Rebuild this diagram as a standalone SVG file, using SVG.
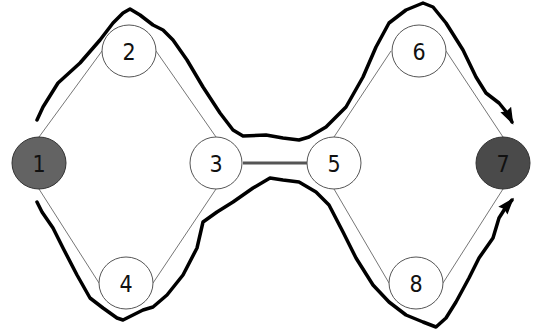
<svg xmlns="http://www.w3.org/2000/svg" width="536" height="335" viewBox="0 0 536 335">
<style>
.n{fill:#fff;stroke:#555;stroke-width:1}
.d{stroke:#333;stroke-width:1}
.t{font-family:"DejaVu Sans Condensed","Liberation Sans Narrow","DejaVu Sans",sans-serif;font-size:23px;text-anchor:middle;fill:#111}
.e{stroke:#666;stroke-width:0.9;fill:none}
.b{stroke:#555;stroke-width:3;fill:none}
.p{stroke:#000;stroke-width:3.5;fill:none;stroke-linejoin:round;stroke-linecap:round}
</style>
<defs>
<marker id="ah" markerUnits="userSpaceOnUse" markerWidth="20" markerHeight="16" viewBox="0 0 20 16" refX="14" refY="8" orient="auto">
<path d="M0,2 L17,8 L0,14 L2,8 Z" fill="#000"/>
</marker>
</defs>
<g id="connectors">
<line class="e" x1="39" y1="137" x2="102" y2="51"/>
<line class="e" x1="156" y1="51" x2="216" y2="137"/>
<line class="e" x1="39" y1="189" x2="99" y2="283"/>
<line class="e" x1="153" y1="283" x2="216" y2="189"/>
<line class="b" x1="243" y1="163" x2="307" y2="163"/>
<line class="e" x1="334" y1="137" x2="391" y2="51"/>
<line class="e" x1="446" y1="51" x2="503" y2="137"/>
<line class="e" x1="334" y1="189" x2="389" y2="283"/>
<line class="e" x1="443" y1="283" x2="503" y2="189"/>
<path id="upper" class="p" marker-end="url(#ah)" d="M37,120 L43,107 L58,83 L80,63 L100,40 L113,23 L123,13 L130,9 L140,15 L153,25 L163,30 L173,40 L187,60 L203,87 L220,113 L233,130 L243,136 L266,135 L283,138 L299,140 L309,137 L326,127 L346,107 L363,77 L376,47 L389,23 L406,10 L423,3 L433,7 L446,23 L463,50 L476,77 L486,93 L499,103 L508,114 L512,122"/>
<path id="lower" class="p" marker-end="url(#ah)" d="M37,202 L42,212 L53,228 L63,248 L77,275 L90,298 L103,308 L117,318 L123,320 L133,315 L143,310 L153,307 L167,295 L183,275 L197,248 L203,222 L217,212 L233,202 L253,188 L270,178 L283,180 L299,182 L316,192 L329,205 L343,232 L356,258 L373,285 L389,302 L406,315 L423,322 L436,327 L446,318 L456,302 L469,278 L479,258 L493,238 L499,218 L506,207 L512,200"/>
</g>
<g id="node1"><ellipse class="d" fill="#636363" cx="39" cy="163" rx="27" ry="26"/><text class="t" x="39" y="172">1</text></g>
<g id="node2"><ellipse class="n" cx="129" cy="51" rx="27" ry="26"/><text class="t" x="129" y="60">2</text></g>
<g id="node3"><ellipse class="n" cx="216" cy="163" rx="26" ry="26"/><text class="t" x="216" y="172">3</text></g>
<g id="node4"><ellipse class="n" cx="126" cy="283" rx="27" ry="26"/><text class="t" x="126" y="292">4</text></g>
<g id="node5"><ellipse class="n" cx="334" cy="163" rx="27" ry="26"/><text class="t" x="334" y="172">5</text></g>
<g id="node6"><ellipse class="n" cx="419" cy="51" rx="27" ry="26"/><text class="t" x="419" y="60">6</text></g>
<g id="node7"><ellipse class="d" fill="#4a4a4a" cx="503" cy="163" rx="27" ry="26"/><text class="t" x="503" y="172">7</text></g>
<g id="node8"><ellipse class="n" cx="416" cy="283" rx="27" ry="26"/><text class="t" x="416" y="292">8</text></g>
</svg>
